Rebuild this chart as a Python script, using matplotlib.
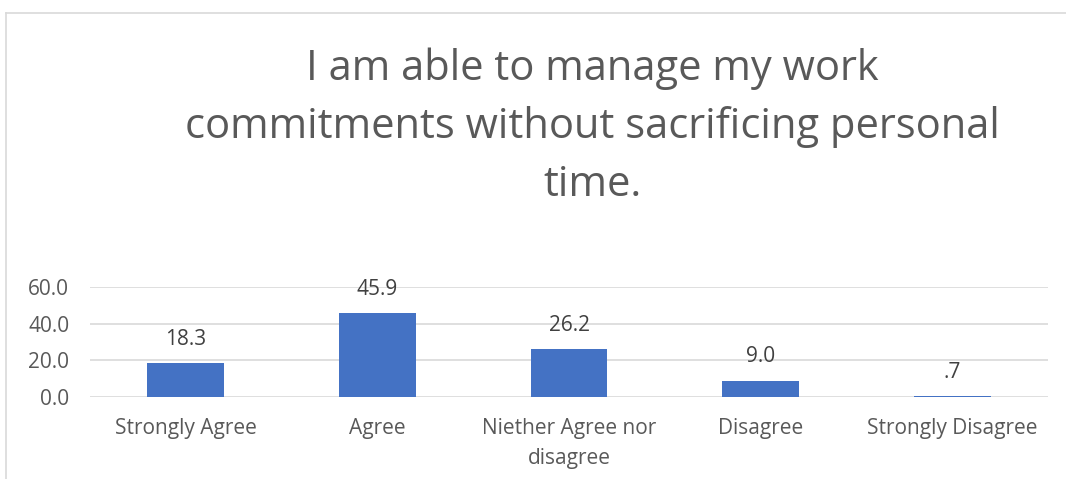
import matplotlib.pyplot as plt
from matplotlib.lines import Line2D

categories = ['Strongly Agree', 'Agree', 'Niether Agree nor\ndisagree', 'Disagree', 'Strongly Disagree']
values = [18.3, 45.9, 26.2, 9.0, 0.7]
value_labels = ['18.3', '45.9', '26.2', '9.0', '.7']
yticks = [0, 20, 40, 60]

plt.rcParams['font.family'] = ['Open Sans', 'DejaVu Sans']

W, H = 1066, 479
fig = plt.figure(figsize=(W / 100, H / 100), dpi=100, facecolor='white')
ax = fig.add_axes([90 / W, 1 - 397 / H, (1048 - 90) / W, (397 - 287) / H])

x = range(len(categories))
ax.bar(x, values, width=0.4, color='#4472C4', zorder=3)
for i, (v, lab) in enumerate(zip(values, value_labels)):
    ax.annotate(lab, xy=(i, v), xytext=(0, 17), textcoords='offset points',
                ha='center', va='center', fontsize=15, color='#404040')

ax.set_xlim(-0.5, len(categories) - 0.5)
ax.set_ylim(0, 60)
ax.set_yticks(yticks)
ax.set_yticklabels([f'{t:.1f}' for t in yticks])
ax.set_xticks(list(x))
ax.set_xticklabels(categories, linespacing=1.55)
ax.grid(axis='y', color='#d9d9d9', linewidth=1.2, zorder=0)
for s in ax.spines.values():
    s.set_visible(False)
ax.tick_params(axis='both', length=0, labelsize=15, labelcolor='#595959')
ax.tick_params(axis='x', pad=15)
ax.tick_params(axis='y', pad=15)

fig.text(592 / W, 1 - 127 / H,
         'I am able to manage my work\ncommitments without sacrificing personal\ntime.',
         ha='center', va='center', fontsize=30, color='#595959', linespacing=1.5)

# chart frame (partially cropped in the original)
fig.add_artist(Line2D([6 / W, 6 / W], [0, 1 - 13 / H], color='#d9d9d9', lw=1.2))
fig.add_artist(Line2D([6 / W, 1], [1 - 13 / H, 1 - 13 / H], color='#d9d9d9', lw=1.2))

fig.savefig('out.png', dpi=100, facecolor='white')
